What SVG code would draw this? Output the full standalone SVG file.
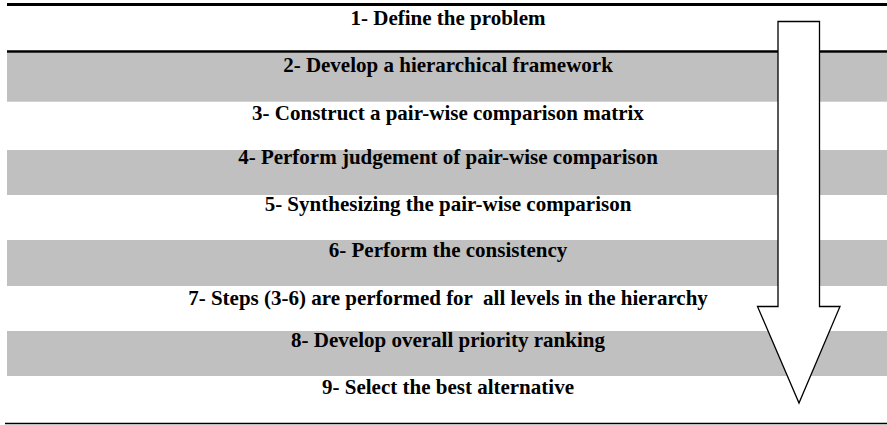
<svg xmlns="http://www.w3.org/2000/svg" width="887" height="425" viewBox="0 0 887 425">
<style>
.band{fill:#c0c0c0;}
.t{font-family:'Liberation Serif','Times New Roman','DejaVu Serif',serif;font-weight:bold;font-size:21px;fill:#000;text-anchor:middle;white-space:pre;}
.rule{stroke:#000;}
</style>
<rect x="0" y="0" width="887" height="425" fill="#fff"/>
<g id="step1">
<line class="rule" x1="7" y1="4.5" x2="887" y2="4.5" stroke-width="3"/>
<text class="t" x="448" y="25">1- Define the problem</text>
</g>
<g id="step2">
<rect class="band" x="7" y="52.5" width="880" height="49.2"/>
<line class="rule" x1="7" y1="51.5" x2="887" y2="51.5" stroke-width="2.7"/>
<text class="t" x="448" y="72">2- Develop a hierarchical framework</text>
</g>
<g id="step3">
<text class="t" x="448" y="119.5">3- Construct a pair-wise comparison matrix</text>
</g>
<g id="step4">
<rect class="band" x="7" y="150" width="880" height="45"/>
<text class="t" x="448" y="164">4- Perform judgement of pair-wise comparison</text>
</g>
<g id="step5">
<text class="t" x="448" y="210.5">5- Synthesizing the pair-wise comparison</text>
</g>
<g id="step6">
<rect class="band" x="7" y="240" width="880" height="46"/>
<text class="t" x="448" y="257">6- Perform the consistency</text>
</g>
<g id="step7">
<text class="t" x="448" y="304.5">7- Steps (3-6) are performed for  all levels in the hierarchy</text>
</g>
<g id="step8">
<rect class="band" x="7" y="331" width="880" height="45"/>
<text class="t" x="448" y="347">8- Develop overall priority ranking</text>
</g>
<g id="step9">
<text class="t" x="448" y="394">9- Select the best alternative</text>
<line class="rule" x1="5" y1="423.5" x2="887" y2="423.5" stroke-width="1.5"/>
</g>
<g id="connectors">
<polygon points="778,21.5 819.5,21.5 819.5,306.5 840,306.5 799,403 757.5,306.5 778,306.5" fill="#fff" stroke="#000" stroke-width="1.3" stroke-linejoin="miter"/>
</g>
</svg>
